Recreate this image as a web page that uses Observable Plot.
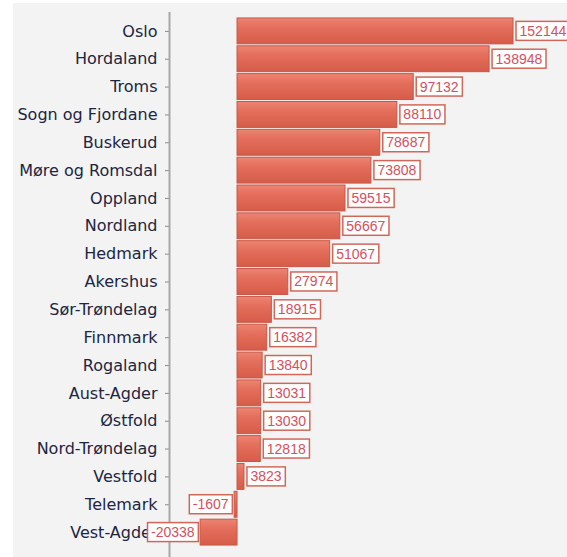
<!DOCTYPE html>
<html>
<head>
<meta charset="utf-8">
<script src="https://cdn.jsdelivr.net/npm/d3@7"></script>
<script src="https://cdn.jsdelivr.net/npm/@observablehq/plot@0.6"></script>
<style>
  html, body { margin: 0; padding: 0; background: #ffffff; overflow: hidden; }
  #wrap { position: relative; width: 567px; height: 557px; }
  #panel { position: absolute; left: 13px; top: 3px; width: 554px; height: 554px; background: #f3f3f3; }
  #chart { position: absolute; left: 0; top: 0; }
</style>
</head>
<body>
<div id="wrap"><div id="panel"></div><div id="chart"></div></div>
<script>
const regions = ["Oslo", "Hordaland", "Troms", "Sogn og Fjordane", "Buskerud", "Møre og Romsdal",
  "Oppland", "Nordland", "Hedmark", "Akershus", "Sør-Trøndelag", "Finnmark", "Rogaland",
  "Aust-Agder", "Østfold", "Nord-Trøndelag", "Vestfold", "Telemark", "Vest-Agder"];
const values = [152144, 138948, 97132, 88110, 78687, 73808, 59515, 56667, 51067, 27974,
  18915, 16382, 13840, 13031, 13030, 12818, 3823, -1607, -20338];
const xDomain = [-37500, 181900];

const data = regions.map((r, i) => ({region: r, value: values[i]}));
const pos = data.filter(d => d.value >= 0);
const neg = data.filter(d => d.value < 0);

const labelOpts = {x: "value", y: "region", text: d => String(d.value),
  fill: "#d4505e", fontSize: 14, fontFamily: "Liberation Sans"};

const plot = Plot.plot({
  width: 567,
  height: 557,
  marginLeft: 169,
  marginRight: 0,
  marginTop: 16,
  marginBottom: 10,
  style: {background: "transparent", fontFamily: "DejaVu Sans", overflow: "hidden"},
  x: {domain: xDomain, axis: null},
  y: {domain: regions, padding: 0.07, round: false, axis: null},
  marks: [
    Plot.axisY({tickSize: 4, tickPadding: 8, stroke: "#8a8a8a", fill: "#1c2541", fontSize: 16, label: null}),
    Plot.ruleX([xDomain[0]], {stroke: "#a8a8a8", strokeWidth: 2, insetTop: -4, insetBottom: -12}),
    Plot.barX(data, {x: "value", y: "region", fill: "url(#barGrad)", stroke: "#c85646", strokeWidth: 1}),
    Plot.text(pos, {...labelOpts, textAnchor: "start", dx: 6}),
    Plot.text(neg, {...labelOpts, textAnchor: "end", dx: -6})
  ]
});
document.getElementById("chart").appendChild(plot);

// gradient definition for bars
const ns = "http://www.w3.org/2000/svg";
const defs = document.createElementNS(ns, "defs");
defs.innerHTML = `<linearGradient id="barGrad" x1="0" y1="0" x2="0" y2="1">
  <stop offset="0" stop-color="#ec8572"/>
  <stop offset="0.35" stop-color="#e46f5c"/>
  <stop offset="1" stop-color="#d65c49"/></linearGradient>`;
plot.insertBefore(defs, plot.firstChild);

// value label boxes: white boxes with red border behind each label
const valueStrings = new Set(values.map(String));
Array.from(plot.querySelectorAll("text"))
  .filter(t => valueStrings.has(t.textContent.trim()))
  .forEach(t => {
    const bb = t.getBBox();
    const r = document.createElementNS(ns, "rect");
    r.setAttribute("x", bb.x - 3.5);
    r.setAttribute("y", bb.y - 1.5);
    r.setAttribute("width", bb.width + 7);
    r.setAttribute("height", bb.height + 3);
    r.setAttribute("fill", "#ffffff");
    r.setAttribute("stroke", "#d0685a");
    r.setAttribute("stroke-width", "1.5");
    const tr = t.getAttribute("transform");
    if (tr) r.setAttribute("transform", tr);
    t.parentNode.insertBefore(r, t);
  });
</script>
</body>
</html>
